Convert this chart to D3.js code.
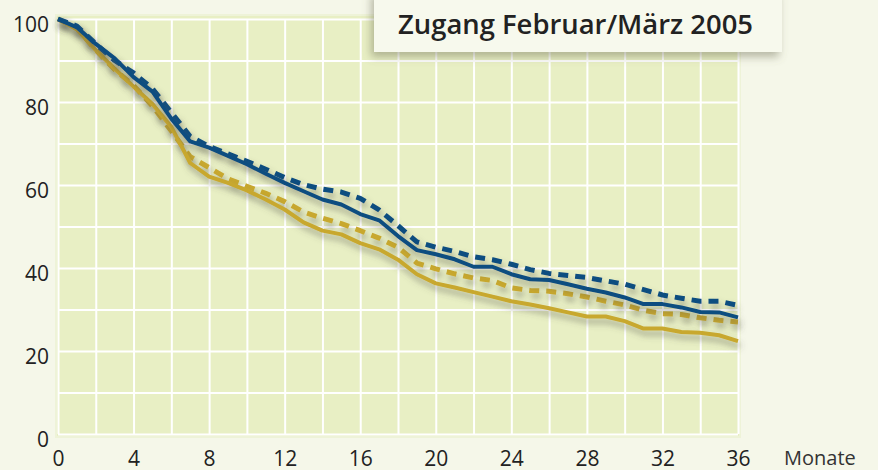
<!DOCTYPE html>
<html>
<head>
<meta charset="utf-8">
<script src="https://cdn.jsdelivr.net/npm/d3@7"></script>
<style>
  html, body { margin: 0; padding: 0; background: #f5f7e9; }
  #chart { width: 878px; height: 470px; }
  text { font-family: "Open Sans", "DejaVu Sans", sans-serif; fill: #222; }
</style>
</head>
<body>
<div id="chart"></div>
<script>
// months on the x axis (0..36)
const months = d3.range(0, 37);

// survival share in percent
const blueSolid = [100, 98, 94, 90.5, 86, 82.5, 76, 70.5, 69, 67, 65, 62.7, 60.5, 58.5, 56.5, 55.3, 53, 51.5, 47.7, 44.3, 43.3, 42.1, 40.3, 40.3, 38.5, 37.3, 37.1, 36.1, 35, 34.1, 32.9, 31.3, 31.3, 30.5, 29.4, 29.3, 28.1];
const blueDashed = [100, 98.3, 94, 90, 87, 83.2, 77.5, 71.7, 69.3, 67.5, 65.7, 63.8, 61.8, 60.1, 59, 58.3, 56.8, 54, 50.2, 46.3, 45, 44, 42.7, 42, 40.9, 39.6, 38.7, 38.2, 37.7, 36.9, 36.1, 34.8, 33.5, 32.7, 32, 32, 31];
const goldSolid = [100, 97.5, 92.5, 88, 83.7, 79.5, 74, 65.3, 62, 60.5, 58.7, 56.5, 54.1, 51, 49, 48.1, 46, 44.5, 42, 38.5, 36.3, 35.3, 34.2, 33.1, 32, 31.2, 30.3, 29.3, 28.3, 28.3, 27.2, 25.4, 25.4, 24.6, 24.4, 23.8, 22.4];
const goldDashed = [100, 97.8, 92.5, 87.8, 84, 79, 73, 66.8, 64.2, 61.5, 59.7, 58, 56, 53.5, 52, 50.7, 49, 47.2, 45, 41.2, 39.8, 38.6, 37.6, 37, 35.2, 34.6, 34.4, 33.8, 33, 32, 31.1, 29.8, 29, 28.8, 28, 27.4, 27];

const xTickValues = [0, 4, 8, 12, 16, 20, 24, 28, 32, 36];
const yTickValues = [0, 20, 40, 60, 80, 100];
const titleText = 'Zugang Februar/März 2005';
const unitText = 'Monate';

const width = 878;
const height = 470;
const margin = { top: 19, right: 140, bottom: 36, left: 58 };

const svg = d3.select('#chart')
  .append('svg')
  .attr('width', width)
  .attr('height', height);

const defs = svg.append('defs');
defs.append('filter')
  .attr('id', 'lineShadow')
  .attr('x', '-10%').attr('y', '-10%')
  .attr('width', '130%').attr('height', '130%')
  .append('feDropShadow')
  .attr('dx', 2).attr('dy', 5)
  .attr('stdDeviation', 3)
  .attr('flood-color', '#55554a')
  .attr('flood-opacity', 0.5);
defs.append('filter')
  .attr('id', 'boxShadow')
  .attr('x', '-20%').attr('y', '-20%')
  .attr('width', '140%').attr('height', '160%')
  .append('feDropShadow')
  .attr('dx', -3).attr('dy', 5)
  .attr('stdDeviation', 4)
  .attr('flood-color', '#6a6a55')
  .attr('flood-opacity', 0.45);

const xScale = d3.scaleLinear()
  .domain([0, 36])
  .range([margin.left, width - margin.right]);
const yScale = d3.scaleLinear()
  .domain([0, 100])
  .range([height - margin.bottom, margin.top]);

// plot panel
svg.append('rect')
  .attr('x', xScale(0) - 2)
  .attr('y', yScale(100) - 4)
  .attr('width', xScale(36) - xScale(0) + 4)
  .attr('height', yScale(0) - yScale(100) + 7)
  .attr('fill', '#e8efc4')
  .attr('stroke', '#eef3d8')
  .attr('stroke-width', 2);

// grid: every 2 months and every 10 %
const gridX = d3.axisBottom(xScale)
  .tickValues(d3.range(0, 37, 2))
  .tickSize(-(yScale(0) - yScale(100)))
  .tickFormat('');
svg.append('g')
  .attr('class', 'grid')
  .attr('transform', `translate(0,${yScale(0)})`)
  .call(gridX);

const gridY = d3.axisLeft(yScale)
  .tickValues(d3.range(0, 101, 10))
  .tickSize(-(xScale(36) - xScale(0)))
  .tickFormat('');
svg.append('g')
  .attr('class', 'grid')
  .attr('transform', `translate(${xScale(0)},0)`)
  .call(gridY);

svg.selectAll('.grid .domain').remove();
svg.selectAll('.grid line')
  .attr('stroke', '#ffffff')
  .attr('stroke-width', 2);

// axes labels
const yAxis = d3.axisLeft(yScale)
  .tickValues(yTickValues)
  .tickSize(0)
  .tickPadding(9);
const yG = svg.append('g')
  .attr('transform', `translate(${xScale(0)},0)`)
  .call(yAxis);
yG.select('.domain').remove();
yG.selectAll('text')
  .attr('dy', '0.58em')
  .style('font-size', '21px')
  .style('font-family', '"Open Sans", sans-serif')
  .attr('fill', '#222');

const xAxis = d3.axisBottom(xScale)
  .tickValues(xTickValues)
  .tickSize(0)
  .tickPadding(17);
const xG = svg.append('g')
  .attr('transform', `translate(0,${yScale(0)})`)
  .call(xAxis);
xG.select('.domain').remove();
xG.selectAll('text')
  .style('font-size', '21px')
  .style('font-family', '"Open Sans", sans-serif')
  .attr('fill', '#222');

svg.append('text')
  .attr('x', 784)
  .attr('y', yScale(0) + 31)
  .style('font-size', '20px')
  .style('fill', '#333')
  .text(unitText);

// the four curves
const line = d3.line()
  .x((d, i) => xScale(months[i]))
  .y(d => yScale(d));

const series = [
  { values: goldDashed, color: '#c8a82e', dash: '10,7', w: 5 },
  { values: goldSolid, color: '#c8a82e', dash: null, w: 4 },
  { values: blueDashed, color: '#0b4e80', dash: '10,7', w: 5 },
  { values: blueSolid, color: '#0b4e80', dash: null, w: 4 },
];

series.forEach(s => {
  svg.append('path')
    .datum(s.values)
    .attr('d', line)
    .attr('fill', 'none')
    .attr('stroke', s.color)
    .attr('stroke-width', s.w)
    .attr('stroke-dasharray', s.dash)
    .attr('stroke-linejoin', 'round')
    .attr('filter', 'url(#lineShadow)');
});

// title box
svg.append('rect')
  .attr('x', 374)
  .attr('y', -10)
  .attr('width', 408)
  .attr('height', 62)
  .attr('fill', '#f7f9ed')
  .attr('filter', 'url(#boxShadow)');

svg.append('text')
  .attr('x', 398)
  .attr('y', 34)
  .attr('textLength', 355)
  .attr('lengthAdjust', 'spacingAndGlyphs')
  .style('font-size', '27px')
  .style('font-weight', 600)
  .style('fill', '#222')
  .text(titleText);
</script>
</body>
</html>
